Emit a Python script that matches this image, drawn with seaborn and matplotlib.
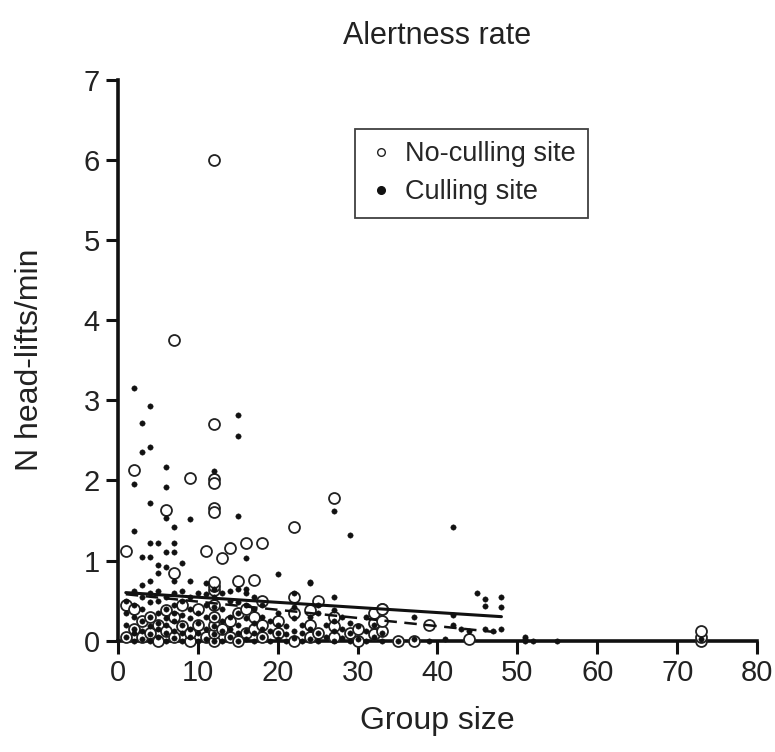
import numpy as np
import pandas as pd
import matplotlib
matplotlib.use("Agg")
import matplotlib.pyplot as plt
import seaborn as sns
from matplotlib.lines import Line2D

# Culling site (filled dots): group size / head-lifts per min
cull_x = [2, 4, 3, 4, 3, 15, 15, 2, 6, 6, 12, 4, 2, 9, 7, 15, 6, 27, 29, 42, 24, 27,
          4, 5, 7, 6, 7, 3, 4, 5, 6, 8, 5, 7, 4, 9, 11, 16, 20, 24, 22, 16,
          45, 46, 48, 46, 48,
          1, 1, 1, 1,
          2, 2, 2, 2, 2, 2,
          3, 3, 3, 3, 3, 3,
          4, 4, 4, 4, 4, 4,
          5, 5, 5, 5, 5, 5,
          6, 6, 6, 6, 6, 6,
          7, 7, 7, 7, 7, 7,
          8, 8, 8, 8, 8, 8,
          9, 9, 9, 9, 9,
          10, 10, 10, 10, 10,
          11, 11, 11, 11, 11,
          12, 12, 12, 12, 12, 12, 12,
          13, 13, 13, 13, 13,
          14, 14, 14, 14, 14,
          15, 15, 15, 15, 15, 15,
          16, 16, 16, 16, 16,
          17, 17, 17, 17, 17,
          18, 18, 18, 18,
          19, 19, 19,
          20, 20, 20, 20,
          21, 21, 21,
          22, 22, 22, 22,
          23, 23, 23,
          24, 24, 24,
          25, 25, 25, 25,
          26, 26,
          27, 27, 27, 27,
          28, 28, 28,
          29, 29, 29,
          30, 30,
          31, 31, 31,
          32, 32,
          33, 33,
          35, 37, 37, 39, 41, 42, 42, 43, 44, 46, 47, 48,
          51, 51, 51, 52, 55, 73]
cull_y = [3.15, 2.93, 2.72, 2.42, 2.35, 2.82, 2.55, 1.95, 2.17, 1.92, 2.12, 1.72, 1.37, 1.52, 1.42, 1.55, 1.53, 1.62, 1.32, 1.42, 0.72, 0.54,
          1.22, 1.22, 1.22, 1.11, 1.11, 1.04, 1.04, 0.95, 0.92, 0.97, 0.85, 0.74, 0.74, 0.74, 0.72, 1.03, 0.83, 0.73, 0.60, 0.64,
          0.60, 0.52, 0.55, 0.43, 0.42,
          0.05, 0.20, 0.35, 0.50,
          0.00, 0.10, 0.15, 0.30, 0.45, 0.62,
          0.02, 0.12, 0.25, 0.40, 0.55, 0.70,
          0.00, 0.08, 0.18, 0.30, 0.48, 0.60,
          0.05, 0.15, 0.22, 0.35, 0.50, 0.62,
          0.00, 0.10, 0.20, 0.28, 0.40, 0.55,
          0.03, 0.12, 0.25, 0.35, 0.45, 0.60,
          0.00, 0.10, 0.20, 0.32, 0.50, 0.62,
          0.05, 0.15, 0.28, 0.40, 0.55,
          0.00, 0.10, 0.22, 0.35, 0.60,
          0.02, 0.15, 0.30, 0.45, 0.58,
          0.00, 0.08, 0.18, 0.30, 0.42, 0.55, 0.65,
          0.00, 0.12, 0.25, 0.40, 0.60,
          0.05, 0.15, 0.30, 0.50, 0.62,
          0.00, 0.10, 0.20, 0.35, 0.48, 0.65,
          0.02, 0.12, 0.28, 0.45, 0.60,
          0.00, 0.10, 0.22, 0.40, 0.55,
          0.05, 0.15, 0.30, 0.45,
          0.00, 0.12, 0.25,
          0.02, 0.10, 0.20, 0.35,
          0.00, 0.08, 0.18,
          0.03, 0.12, 0.28, 0.42,
          0.00, 0.10, 0.20,
          0.02, 0.15, 0.30,
          0.00, 0.10, 0.35, 0.45,
          0.05, 0.20,
          0.00, 0.12, 0.25, 0.38,
          0.03, 0.15, 0.30,
          0.00, 0.10, 0.22,
          0.02, 0.18,
          0.00, 0.12, 0.30,
          0.05, 0.20,
          0.00, 0.10,
          0.00, 0.02, 0.30, 0.00, 0.02, 0.20, 0.32, 0.15, 0.12, 0.15, 0.12, 0.15,
          0.00, 0.02, 0.04, 0.00, 0.00, 0.02]

# No-culling site (open circles)
nocull_x = [12, 7, 12, 2, 9, 12, 12, 12, 12, 6, 1, 11, 14, 16, 18, 22, 27, 13, 7, 15, 17, 33, 39,
            1, 1, 2, 2, 3, 3, 4, 4, 5, 5, 6, 6, 7, 7, 8, 8, 9, 9, 10, 10, 11,
            12, 12, 12, 12, 12, 12, 12, 12,
            13, 14, 14, 15, 15, 16, 16, 17, 17, 18, 18, 18, 20, 20,
            22, 22, 22, 24, 24, 24, 25, 25, 27, 27, 27, 29, 30, 30,
            32, 32, 32, 33, 33, 33, 35, 37, 44, 73, 73, 73]
nocull_y = [6.00, 3.75, 2.70, 2.13, 2.03, 2.02, 1.97, 1.65, 1.60, 1.63, 1.12, 1.12, 1.16, 1.22, 1.22, 1.42, 1.78, 1.03, 0.84, 0.74, 0.76, 0.40, 0.20,
            0.05, 0.45, 0.15, 0.40, 0.05, 0.25, 0.10, 0.30, 0.00, 0.20, 0.12, 0.38, 0.05, 0.30, 0.18, 0.45, 0.00, 0.10, 0.20, 0.40, 0.05,
            0.00, 0.10, 0.20, 0.30, 0.45, 0.63, 0.68, 0.73,
            0.15, 0.05, 0.25, 0.00, 0.35, 0.10, 0.40, 0.15, 0.30, 0.05, 0.20, 0.50, 0.10, 0.25,
            0.00, 0.35, 0.55, 0.05, 0.20, 0.38, 0.10, 0.50, 0.05, 0.18, 0.30, 0.10, 0.00, 0.15,
            0.08, 0.22, 0.35, 0.12, 0.25, 0.40, 0.00, 0.00, 0.02, 0.00, 0.05, 0.12]

# fitted regression lines (end points)
fit_x = [1, 48]
fit_solid_y = [0.60, 0.30]
fit_dashed_y = [0.58, 0.10]

x_ticks = [0, 10, 20, 30, 40, 50, 60, 70, 80]
y_ticks = [0, 1, 2, 3, 4, 5, 6, 7]

df_cull = pd.DataFrame({"size": cull_x, "rate": cull_y})
df_nocull = pd.DataFrame({"size": nocull_x, "rate": nocull_y})

sns.set_style("ticks")
plt.rcParams['font.family'] = ['Liberation Sans', 'DejaVu Sans']

fig = plt.figure(figsize=(7.75, 7.52), dpi=100)
ax = fig.add_axes([0.152, 0.148, 0.825, 0.746])

sns.scatterplot(data=df_nocull, x="size", y="rate", ax=ax, marker="o", s=62,
                facecolor="white", edgecolor="#222222", linewidth=1.3, clip_on=False, zorder=3)
sns.scatterplot(data=df_cull, x="size", y="rate", ax=ax, marker="o", s=15,
                color="#111111", edgecolor="#111111", linewidth=0.3, clip_on=False, zorder=4)

ax.plot(fit_x, fit_solid_y, color="#111111", lw=2.2, zorder=5)
ax.plot(fit_x, fit_dashed_y, color="#111111", lw=1.8, ls=(0, (5, 3)), zorder=5)

ax.set_xlim(0, 80)
ax.set_ylim(0, 7)
ax.set_xticks(x_ticks)
ax.set_yticks(y_ticks)
ax.tick_params(labelsize=21, width=2.2, length=9, direction="out", color="#111111",
               labelcolor="#222222", pad=4)
for side in ["left", "bottom"]:
    ax.spines[side].set_linewidth(2.6)
    ax.spines[side].set_color("#111111")
sns.despine(ax=ax)

ax.set_xlabel("Group size", fontsize=23, labelpad=14, color="#222222")
ax.set_ylabel("N head-lifts/min", fontsize=23, labelpad=28, color="#222222")
ax.set_title("Alertness rate", fontsize=22, pad=26, color="#222222")

handles = [
    Line2D([], [], ls="none", marker="o", markersize=5.5, markerfacecolor="white",
           markeredgecolor="#222222", markeredgewidth=1.0),
    Line2D([], [], ls="none", marker="o", markersize=5.5, markerfacecolor="#111111",
           markeredgecolor="#111111"),
]
leg = ax.legend(handles, ["No-culling site", "Culling site"], loc="upper left",
                bbox_to_anchor=(0.371, 0.912), fontsize=19.5, frameon=True, fancybox=False,
                handletextpad=0.4, handlelength=1.0, borderpad=0.45, labelspacing=0.45,
                borderaxespad=0)
leg.get_frame().set_edgecolor("#111111")
leg.get_frame().set_linewidth(1.3)

fig.savefig("out.png", dpi=100)
